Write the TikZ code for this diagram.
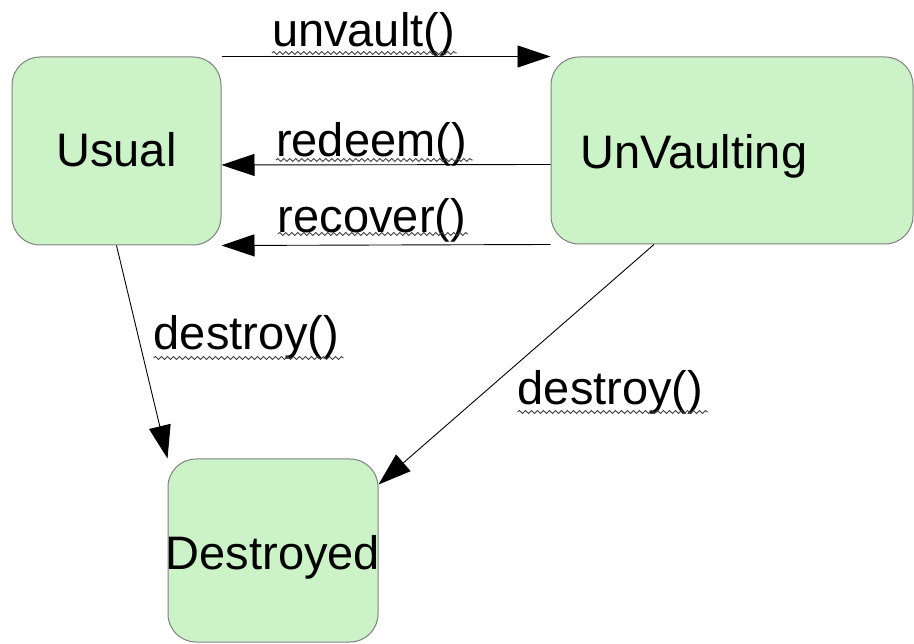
\documentclass[tikz,border=0pt]{standalone}
\usepackage{fontspec}
\setmainfont{Liberation Sans}
\usetikzlibrary{arrows.meta,decorations.pathmorphing}
\definecolor{boxgreen}{RGB}{204,242,200}
\definecolor{boxline}{RGB}{128,128,128}
\begin{document}
\begin{tikzpicture}[x=1pt,y=-1pt,
  statebox/.style={draw=boxline, fill=boxgreen, line width=1pt, rounded corners=28pt, inner sep=0pt},
  bigtext/.style={font=\fontsize{47}{52}\selectfont, inner sep=0pt, anchor=base},
  conn/.style={draw=black, line width=0.9pt, -{Triangle[length=33pt,width=22pt]}},
  wave/.style={draw=black!75, line width=0.9pt, decorate, decoration={snake, amplitude=1.5pt, segment length=6pt}}
]
\useasboundingbox (0,0) rectangle (914,644);

% state boxes
\node[statebox, minimum width=209pt, minimum height=188pt] (usual) at (116.5,151) {};
\node[statebox, minimum width=362pt, minimum height=187pt] (unv) at (732,150.5) {};
\node[statebox, minimum width=210pt, minimum height=183pt] (des) at (273,550.5) {};

% state names
\node[bigtext] (tusual) at (116.5,167) {Usual};
\node[bigtext] (tunv) at (694,169) {UnVaulting};
\node[bigtext] (tdes) at (273,569) {Destroyed};

% connectors
\draw[conn] (usual.north east) -- (unv.north west);
\draw[conn] ([yshift=-14pt]unv.west) -- ([yshift=-14pt]usual.east);
\draw[conn] (unv.south west) -- (usual.south east);
\draw[conn] (usual.south) -- (des.north west);
\draw[conn] ([xshift=-78pt]unv.south) -- ([yshift=-26pt]des.north east);

% labels
\node[bigtext] (l1) at (363.5,47) {unvault()};
\node[bigtext] (l2) at (371.5,157) {redeem()};
\node[bigtext] (l3) at (372,233) {recover()};
\node[bigtext] (l4) at (246.5,350) {destroy()};
\node[bigtext] (l5) at (610.5,405) {destroy()};

% wavy underlines
\draw[wave] ([yshift=-6pt]l1.base west) -- ([yshift=-6pt,xshift=2pt]l1.base east);
\draw[wave] ([yshift=-3pt]l2.base west) -- ([yshift=-3pt,xshift=6pt]l2.base east);
\draw[wave] ([yshift=-1pt]l3.base west) -- ([yshift=-1pt,xshift=2pt]l3.base east);
\draw[wave] ([yshift=-8pt]l4.base west) -- ([yshift=-8pt,xshift=4pt]l4.base east);
\draw[wave] ([yshift=-7pt]l5.base west) -- ([yshift=-7pt,xshift=5pt]l5.base east);
\end{tikzpicture}
\end{document}
